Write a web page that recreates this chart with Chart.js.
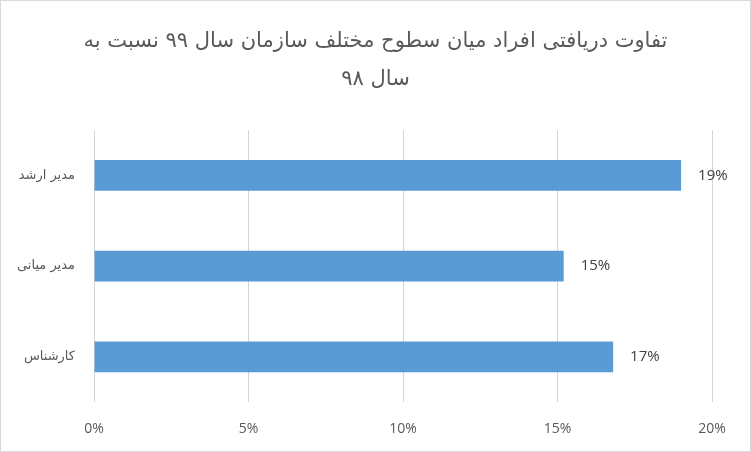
<!DOCTYPE html>
<html>
<head>
<meta charset="utf-8">
<script src="https://cdn.jsdelivr.net/npm/chart.js@4"></script>
<style>
  body { margin: 0; background: #fff; }
  #box { width: 751px; height: 452px; box-sizing: border-box; border: 1px solid #d9d9d9; position: relative; }
</style>
</head>
<body>
<div id="box"><canvas id="myChart"></canvas></div>
<script>
var categories = ["مدیر ارشد", "مدیر میانی", "کارشناس"];
var values = [0.19, 0.152, 0.168];
var valueLabels = ["19%", "15%", "17%"];
var titleLines = ["تفاوت دریافتی افراد میان سطوح مختلف سازمان سال ۹۹ نسبت به", "سال ۹۸"];

// draws the percentage text to the right of each bar
var barLabels = {
    id: 'barLabels',
    afterDatasetsDraw: function(chart) {
        var ctx = chart.ctx;
        var meta = chart.getDatasetMeta(0);
        ctx.save();
        ctx.font = '15px "Open Sans"';
        ctx.fillStyle = '#404040';
        ctx.textAlign = 'left';
        ctx.textBaseline = 'middle';
        meta.data.forEach(function(bar, i) {
            ctx.fillText(valueLabels[i], bar.x + 17, bar.y);
        });
        ctx.restore();
    }
};

// title centred on the whole canvas (the built-in one follows the uneven padding)
var centerTitle = {
    id: 'centerTitle',
    afterDraw: function(chart) {
        var ctx = chart.ctx;
        ctx.save();
        ctx.font = '21px "DejaVu Sans"';
        ctx.fillStyle = '#595959';
        ctx.textAlign = 'center';
        ctx.textBaseline = 'middle';
        ctx.direction = 'rtl';
        var cx = chart.width / 2;
        ctx.fillText(titleLines[0], cx, 41);
        ctx.fillText(titleLines[1], cx, 79);
        ctx.restore();
    }
};

var diffChart = new Chart(document.getElementById("myChart"), {
    type: 'bar',
    data: {
        labels: categories,
        datasets: [{
            data: values,
            backgroundColor: '#5b9bd5',
            barPercentage: 0.34,
            categoryPercentage: 1
        }]
    },
    options: {
        indexAxis: 'y',
        responsive: true,
        maintainAspectRatio: false,
        animation: false,
        layout: { padding: { left: -3, right: 38, top: 129, bottom: -4 } },
        plugins: {
            legend: { display: false },
            tooltip: { enabled: false },
            title: { display: false }
        },
        scales: {
            x: {
                min: 0,
                max: 0.2,
                ticks: {
                    stepSize: 0.05,
                    color: '#595959',
                    font: { family: 'Open Sans', size: 14 },
                    padding: 18,
                    callback: function(v) { return Math.round(v * 100) + '%'; }
                },
                grid: { color: '#d4d4d4', drawTicks: false },
                border: { display: false }
            },
            y: {
                ticks: {
                    color: '#595959',
                    font: { family: 'DejaVu Sans', size: 13 },
                    padding: 19
                },
                grid: { display: false, drawTicks: false },
                border: { display: false }
            }
        }
    },
    plugins: [barLabels, centerTitle]
});
</script>
</body>
</html>
